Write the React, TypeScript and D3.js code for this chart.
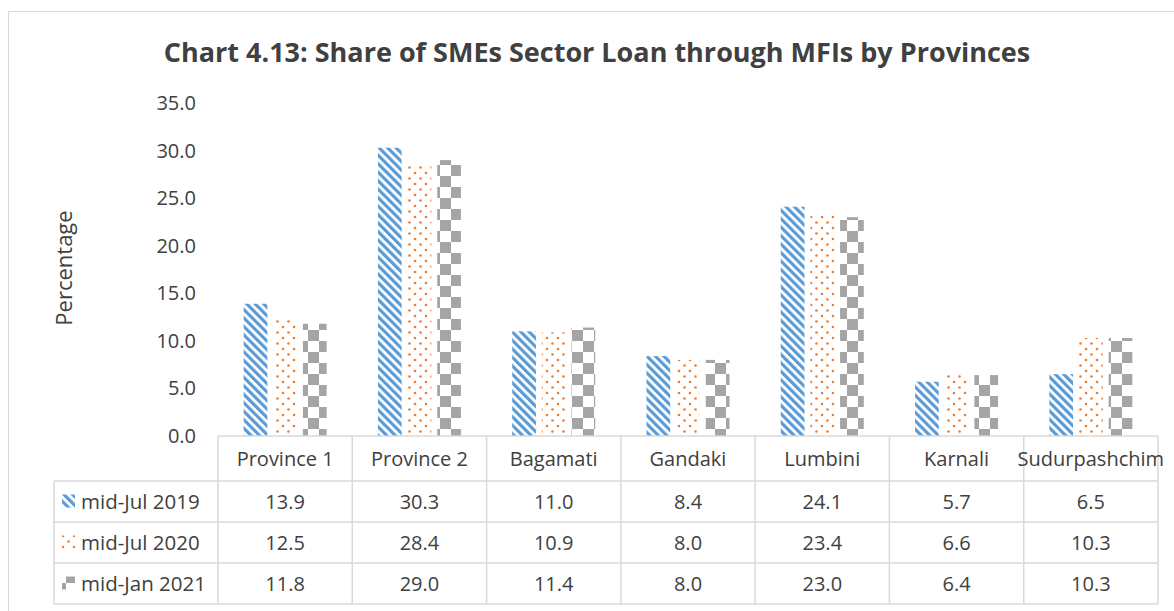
import * as d3 from 'd3';

const provinces = ['Province 1', 'Province 2', 'Bagamati', 'Gandaki', 'Lumbini', 'Karnali', 'Sudurpashchim'];
const seriesNames = ['mid-Jul 2019', 'mid-Jul 2020', 'mid-Jan 2021'];
const jul2019 = [13.9, 30.3, 11.0, 8.4, 24.1, 5.7, 6.5];
const jul2020 = [12.5, 28.4, 10.9, 8.0, 23.4, 6.6, 10.3];
const jan2021 = [11.8, 29.0, 11.4, 8.0, 23.0, 6.4, 10.3];
const yTicks = [0, 5, 10, 15, 20, 25, 30, 35];

const seriesValues = [jul2019, jul2020, jan2021];
const patternIds = ['pat-stripe', 'pat-dots', 'pat-check'];

const W = 1174;
const H = 611;
const FONT = '"Open Sans", Lato, sans-serif';
const TEXT = '#404040';
const GRID = '#d9d9d9';

export default function App() {
  const plotLeft = 218;
  const plotRight = 1158;
  const plotTop = 103;
  const plotBottom = 436;
  const tableLeft = 54;
  const rowLines = [481, 522, 563, 604];

  const x = d3.scaleBand<string>().domain(provinces).range([plotLeft, plotRight]);
  const y = d3.scaleLinear().domain([0, 35]).range([plotBottom, plotTop]);
  const inner = d3
    .scaleBand<string>()
    .domain(seriesNames)
    .range([-41.5, 41.5])
    .paddingInner(0.2);

  const colCenter = (p: string) => (x(p) || 0) + x.bandwidth() / 2;

  return (
    <svg
      width={W}
      height={H}
      style={{ position: 'absolute', left: 0, top: 0, background: '#fff' }}
      fontFamily={FONT}
    >
      <defs>
        <pattern id="pat-stripe" patternUnits="userSpaceOnUse" width="6" height="6" patternTransform="rotate(-45)">
          <rect width="6" height="6" fill="#fff" />
          <rect width="3.2" height="6" fill="#5b9bd5" />
        </pattern>
        <pattern id="pat-dots" patternUnits="userSpaceOnUse" width="11" height="11">
          <rect width="11" height="11" fill="#fff" />
          <circle cx="2.5" cy="2.5" r="1.3" fill="#ed7d31" />
          <circle cx="8" cy="8" r="1.3" fill="#ed7d31" />
        </pattern>
        <pattern id="pat-check" patternUnits="userSpaceOnUse" width="22" height="22">
          <rect width="22" height="22" fill="#fff" />
          <rect width="11" height="11" fill="#a5a5a5" />
          <rect x="11" y="11" width="11" height="11" fill="#a5a5a5" />
        </pattern>
      </defs>

      {/* outer chart border */}
      <rect x={8.5} y={11.5} width={W + 20} height={H + 20} fill="none" stroke={GRID} />

      <text x={597} y={62} textAnchor="middle" fontSize={27} fontWeight={700} fill={TEXT}>
        Chart 4.13: Share of SMEs Sector Loan through MFIs by Provinces
      </text>

      <text
        transform={`translate(72,${268}) rotate(-90)`}
        textAnchor="middle"
        fontSize={22}
        fill={TEXT}
      >
        Percentage
      </text>

      {/* y tick labels */}
      {yTicks.map((t) => (
        <text key={t} x={196} y={y(t)} dy="0.35em" textAnchor="end" fontSize={20} fill={TEXT}>
          {t.toFixed(1)}
        </text>
      ))}

      {/* bars */}
      {seriesNames.map((s, si) => (
        <g key={s}>
          {provinces.map((p, pi) => {
            const v = seriesValues[si][pi];
            return (
              <rect
                key={p}
                x={colCenter(p) + (inner(s) || 0)}
                y={y(v)}
                width={inner.bandwidth()}
                height={y(0) - y(v)}
                fill={`url(#${patternIds[si]})`}
              />
            );
          })}
        </g>
      ))}

      {/* data table grid */}
      <g stroke={GRID} strokeWidth={1.5} fill="none">
        <line x1={plotLeft} x2={plotRight} y1={plotBottom} y2={plotBottom} />
        {rowLines.map((ry) => (
          <line key={ry} x1={tableLeft} x2={plotRight} y1={ry} y2={ry} />
        ))}
        <line x1={tableLeft} x2={tableLeft} y1={rowLines[0]} y2={rowLines[3]} />
        {provinces.map((p) => (
          <line key={p} x1={x(p) || 0} x2={x(p) || 0} y1={plotBottom} y2={rowLines[3]} />
        ))}
        <line x1={plotRight} x2={plotRight} y1={plotBottom} y2={rowLines[3]} />
      </g>

      {/* header row */}
      {provinces.map((p) => (
        <text key={p} x={colCenter(p)} y={459} dy="0.35em" textAnchor="middle" fontSize={20} fill={TEXT}>
          {p}
        </text>
      ))}

      {/* series rows */}
      {seriesNames.map((s, si) => {
        const cy = (rowLines[si] + rowLines[si + 1]) / 2;
        return (
          <g key={s}>
            <rect x={62} y={cy - 7} width={13} height={13} fill={`url(#${patternIds[si]})`} />
            <text x={81} y={cy} dy="0.35em" fontSize={20.5} fill={TEXT}>
              {s}
            </text>
            {provinces.map((p, pi) => (
              <text
                key={p}
                x={colCenter(p)}
                y={cy}
                dy="0.35em"
                textAnchor="middle"
                fontSize={20}
                fill={TEXT}
              >
                {seriesValues[si][pi].toFixed(1)}
              </text>
            ))}
          </g>
        );
      })}
    </svg>
  );
}
